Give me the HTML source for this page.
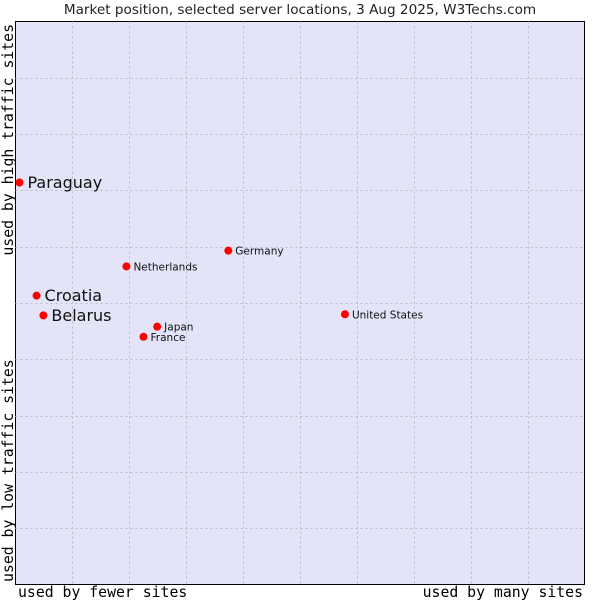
<!DOCTYPE html>
<html><head><meta charset="utf-8"><style>
body{margin:0;background:#fff;width:600px;height:600px;overflow:hidden}
svg{display:block}
</style></head><body>
<svg id="chart" width="600" height="600" xmlns="http://www.w3.org/2000/svg">
<text x="300" y="14" text-anchor="middle" font-family="DejaVu Sans, sans-serif" font-size="13.6" fill="#222">Market position, selected server locations, 3 Aug 2025, W3Techs.com</text>
<rect x="15.5" y="21.5" width="569" height="563" fill="#e4e4f8" stroke="#000" stroke-width="1"/>
<g id="grid"></g>
<g id="points"></g>
<text x="18" y="597" font-family="DejaVu Sans Mono, monospace" font-size="14.8" fill="#000">used by fewer sites</text>
<text x="583" y="597" text-anchor="end" font-family="DejaVu Sans Mono, monospace" font-size="14.8" fill="#000">used by many sites</text>
<text transform="translate(13,24) rotate(-90)" text-anchor="end" font-family="DejaVu Sans Mono, monospace" font-size="14.8" fill="#000">used by high traffic sites</text>
<text transform="translate(13,582) rotate(-90)" font-family="DejaVu Sans Mono, monospace" font-size="14.8" fill="#000">used by low traffic sites</text>
</svg>
<script>
const countries = ["Paraguay","Croatia","Belarus","Netherlands","Germany","United States","Japan","France"];
const xValues = [0.7, 3.7, 4.9, 19.5, 37.4, 57.9, 24.9, 22.5];
const yValues = [71.4, 51.3, 47.8, 56.5, 59.3, 48.0, 45.8, 44.0];
const largeLabel = [true, true, true, false, false, false, false, false];
const gridSteps = [1,2,3,4,5,6,7,8,9];

const X0=15.5, X1=584.5, Y0=584.5, Y1=21.5;
function sx(v){return X0+(X1-X0)*v/100;}
function sy(v){return Y0-(Y0-Y1)*v/100;}
const NS="http://www.w3.org/2000/svg";
const grid=document.getElementById('grid');
gridSteps.forEach(i=>{
  const v=document.createElementNS(NS,'line');
  
  
  const x=Math.round(sx(i*10))+0.5;
  v.setAttribute('x1',x);v.setAttribute('x2',x);v.setAttribute('y1',Y1);v.setAttribute('y2',Y0);
  v.setAttribute('stroke','#bcbcc4');v.setAttribute('stroke-dasharray','2,3');
  grid.appendChild(v);
  const h=document.createElementNS(NS,'line');
  
  
  const y=Math.round(sy(i*10))+0.5;
  h.setAttribute('x1',X0);h.setAttribute('x2',X1);h.setAttribute('y1',y);h.setAttribute('y2',y);
  h.setAttribute('stroke','#bcbcc4');h.setAttribute('stroke-dasharray','2,3');
  grid.appendChild(h);
});
const pts=document.getElementById('points');
countries.forEach((c,i)=>{
  const x=sx(xValues[i]), y=sy(yValues[i]);
  const d=document.createElementNS(NS,'circle');
  
  
  d.setAttribute('cx',x);d.setAttribute('cy',y);d.setAttribute('r',4);d.setAttribute('fill','#ff0000');
  pts.appendChild(d);
  const t=document.createElementNS(NS,'text');
  
  
  const big=largeLabel[i];
  t.setAttribute('x',x+(big?8:7));t.setAttribute('y',y+(big?5.5:4));
  t.setAttribute('font-family','DejaVu Sans, sans-serif');
  t.setAttribute('font-size',big?16:10.5);
  t.setAttribute('fill','#111');
  t.textContent=c;
  pts.appendChild(t);
});
</script>
</body></html>
